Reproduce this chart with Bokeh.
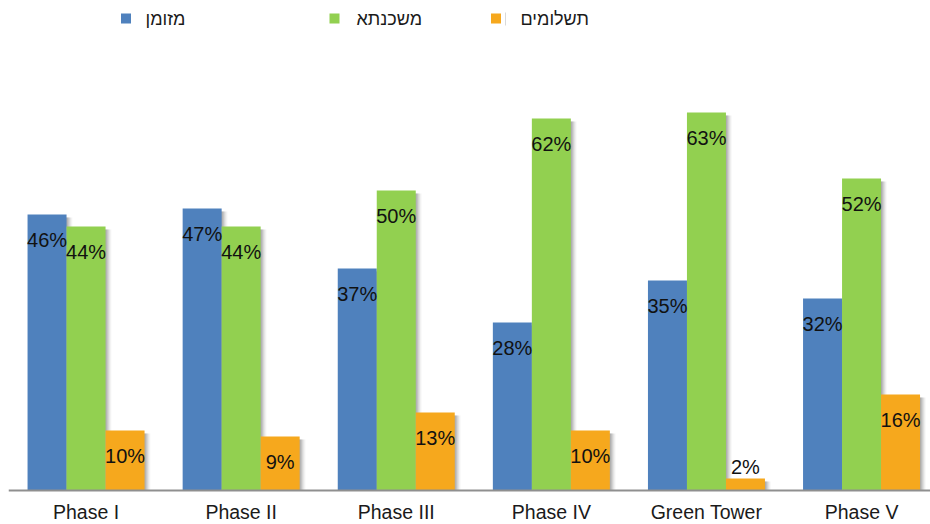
from bokeh.plotting import figure
from bokeh.models import ColumnDataSource, Range1d, Span
from bokeh.core.properties import value
from bokeh.embed import file_html
from bokeh.resources import INLINE

# --- data -------------------------------------------------------------
phases = ["Phase I", "Phase II", "Phase III", "Phase IV", "Green Tower", "Phase V"]
cash = [46, 47, 37, 28, 35, 32]          # מזומן
mortgage = [44, 44, 50, 62, 63, 52]      # משכנתא
payments = [10, 9, 13, 10, 2, 16]        # תשלומים
series_names = ["מזומן", "משכנתא", "תשלומים"]
series_colors = ["#4F81BD", "#92D050", "#F6A81D"]

# --- layout -----------------------------------------------------------
W, H = 930, 524
LEFT = 8
BASE_PX = 490               # pixel row of the zero line
GROUP_PX = 155.1            # width of one category slot in pixels
PX_PER_PCT = 6.0            # vertical scale
FRAME_W = W - LEFT
X_END = FRAME_W / GROUP_PX
Y_START = -(H - BASE_PX) / PX_PER_PCT
Y_END = BASE_PX / PX_PER_PCT
BAR_W = 39 / GROUP_PX
FONT = "Liberation Sans"


def px_x(px):
    return (px - LEFT) / GROUP_PX


def px_y(py):
    return (BASE_PX - py) / PX_PER_PCT


p = figure(width=W, height=H, output_backend="svg", toolbar_location=None,
           x_range=Range1d(0, X_END), y_range=Range1d(Y_START, Y_END),
           min_border_left=LEFT, min_border_right=0, min_border_top=0,
           min_border_bottom=0, background_fill_color="white",
           border_fill_color="white")
p.outline_line_color = None
p.grid.visible = False
p.axis.visible = False

centers = [i + 0.5 for i in range(len(phases))]
offsets = [-BAR_W, 0.0, BAR_W]
all_series = [cash, mortgage, payments]

for vals, off, color in zip(all_series, offsets, series_colors):
    xs = [c + off for c in centers]
    # soft drop shadow on the right side of each bar
    for k, a in zip([1, 2, 3, 4, 5, 6], [0.13, 0.12, 0.10, 0.08, 0.05, 0.03]):
        p.vbar(x=[x + k / GROUP_PX for x in xs], width=BAR_W, bottom=0,
               top=[v - 3 / PX_PER_PCT for v in vals],
               fill_color="#404040", fill_alpha=a, line_color=None)
    p.vbar(x=xs, width=BAR_W, bottom=0, top=vals,
           fill_color=color, line_color=None)

# zero line
p.add_layout(Span(location=0, dimension="width", line_color="#8F8F8F",
                  line_width=2))

# value labels
for vals, off in zip(all_series, offsets):
    src = ColumnDataSource(dict(
        x=[c + off for c in centers],
        y=[v - 4.3 if v > 5 else v + 2.0 for v in vals],
        t=[f"{v}%" for v in vals],
    ))
    p.text(x="x", y="y", text="t", source=src, text_align="center",
           text_baseline="middle", text_font=value(FONT),
           text_font_size="20px", text_color="#111111")

# category names under each group
p.text(x=centers, y=[px_y(522.5)] * len(phases), text=phases,
       text_align="center", text_baseline="bottom", text_font=value(FONT),
       text_font_size="19.5px", text_color="#1A1A1A")

# legend row at the top
leg_y = px_y(18)
sq_px = [125.5, 334.0, 495.5]
txt_px = [145, 356, 520]
p.scatter(x=[px_x(v) for v in sq_px], y=[leg_y] * 3, marker="square", size=10,
          fill_color=series_colors, line_color=None)
p.text(x=[px_x(v) for v in txt_px], y=[leg_y] * 3, text=series_names,
       text_align="left", text_baseline="middle", text_font=value(FONT),
       text_font_size="18px", text_color="#1A1A1A")
p.segment(x0=[px_x(505)], y0=[px_y(12)], x1=[px_x(505)], y1=[px_y(25)],
          line_color="#D9D9D9", line_width=1)

open("out.html", "w").write(file_html(p, INLINE))
